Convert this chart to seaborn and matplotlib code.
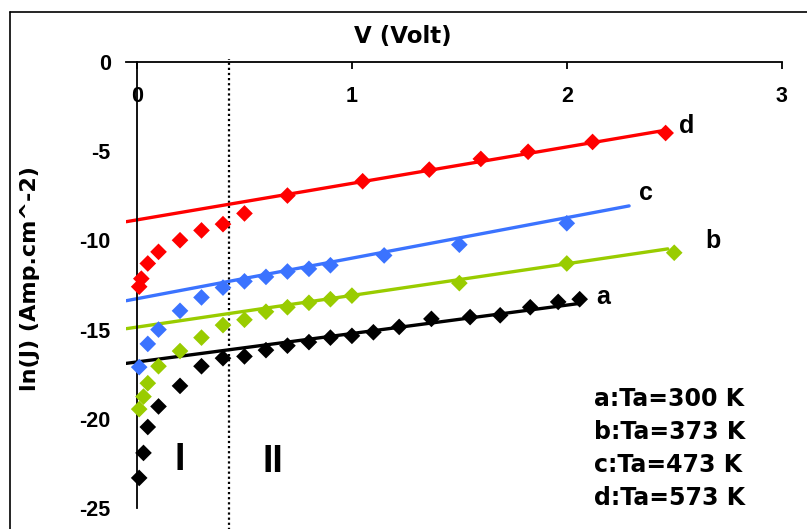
import numpy as np
import pandas as pd
import seaborn as sns
import matplotlib.pyplot as plt
from matplotlib.lines import Line2D

# === Data (ln J vs V) ===
samples = ["a", "b", "c", "d"]
temps = [300, 373, 473, 573]
colors = ["#000000", "#99CC00", "#3B73FF", "#FF0000"]

v_a = [0.01, 0.03, 0.05, 0.1, 0.2, 0.3, 0.4, 0.5, 0.6, 0.7, 0.8, 0.9, 1.0,
       1.1, 1.22, 1.37, 1.55, 1.69, 1.83, 1.96, 2.06]
lnj_a = [-23.3, -21.9, -20.45, -19.3, -18.15, -17.05, -16.6, -16.5, -16.15, -15.9, -15.7, -15.45, -15.35,
         -15.15, -14.85, -14.4, -14.3, -14.2, -13.75, -13.45, -13.3]

v_b = [0.01, 0.03, 0.05, 0.1, 0.2, 0.3, 0.4, 0.5, 0.6, 0.7, 0.8, 0.9, 1.0, 1.5, 2.0, 2.5]
lnj_b = [-19.45, -18.75, -18.0, -17.05, -16.2, -15.45, -14.75, -14.45, -14.0, -13.75, -13.5, -13.3, -13.1,
         -12.4, -11.3, -10.7]

v_c = [0.01, 0.05, 0.1, 0.2, 0.3, 0.4, 0.5, 0.6, 0.7, 0.8, 0.9, 1.15, 1.5, 2.0]
lnj_c = [-17.1, -15.8, -15.0, -13.95, -13.2, -12.65, -12.3, -12.05, -11.75, -11.6, -11.4, -10.85, -10.25, -9.05]

v_d = [0.01, 0.02, 0.05, 0.1, 0.2, 0.3, 0.4, 0.5, 0.7, 1.05, 1.36, 1.6, 1.82, 2.12, 2.46]
lnj_d = [-12.6, -12.15, -11.3, -10.65, -10.0, -9.45, -9.1, -8.5, -7.5, -6.7, -6.05, -5.45, -5.05, -4.5, -4.0]

# linear fits of region II
fit_intercept = [-16.81, -14.86, -13.27, -8.86]
fit_slope = [1.59, 1.772, 2.267, 2.04]
fit_start = -0.05
fit_end = [2.06, 2.47, 2.29, 2.46]

# where the curve labels a..d sit
label_v = [2.17, 2.68, 2.37, 2.56]
label_lnj = [-13.2, -10.05, -7.35, -3.6]

boundary_v = 0.43  # dotted line between region I and II

# === Build tables ===
volts = [v_a, v_b, v_c, v_d]
lnjs = [lnj_a, lnj_b, lnj_c, lnj_d]
points = pd.concat([pd.DataFrame({"V": v, "lnJ": j, "sample": s})
                    for s, v, j in zip(samples, volts, lnjs)], ignore_index=True)

fit_rows = []
for s, b0, m, xe in zip(samples, fit_intercept, fit_slope, fit_end):
    xs = np.array([fit_start, xe])
    fit_rows.append(pd.DataFrame({"V": xs, "lnJ": b0 + m * xs, "sample": s}))
fits = pd.concat(fit_rows, ignore_index=True)

palette = dict(zip(samples, colors))

# === Plot ===
sns.set_theme(style="white")
plt.rcParams["font.family"] = ["Liberation Sans", "DejaVu Sans"]
plt.rcParams["font.weight"] = "bold"
plt.rcParams["axes.unicode_minus"] = False
plt.rcParams["text.color"] = "black"
plt.rcParams["axes.labelcolor"] = "black"

fig = plt.figure(figsize=(8.07, 5.29), dpi=100)
ax = fig.add_axes([0.1565, 0.0391, 0.8121, 0.8446])

sns.lineplot(data=fits, x="V", y="lnJ", hue="sample", palette=palette, linewidth=2.4,
             estimator=None, sort=False, legend=False, ax=ax, zorder=2)
sns.scatterplot(data=points, x="V", y="lnJ", hue="sample", palette=palette, marker="D",
                s=72, linewidth=0, legend=False, ax=ax, zorder=3)

ax.axvline(boundary_v, ymin=-0.06, ymax=1.005, color="black", linewidth=1.6,
           linestyle=(0, (1, 1.3)), clip_on=False, zorder=1)

ax.set_xlim(-0.05, 3)
ax.set_ylim(-25, 0)
ax.set_xticks([0, 1, 2, 3])
ax.set_yticks([0, -5, -10, -15, -20, -25])

for side in ["right", "bottom"]:
    ax.spines[side].set_visible(False)
ax.spines["left"].set_position(("data", 0))
for side in ["left", "top"]:
    ax.spines[side].set_color("black")
    ax.spines[side].set_linewidth(1.3)

ax.xaxis.tick_top()
ax.tick_params(axis="x", direction="in", length=5, width=1.3, pad=-33, labelsize=15.5,
               color="black", labelcolor="black")
ax.tick_params(axis="y", direction="out", length=7, width=1.3, pad=12, labelsize=15.5,
               color="black", labelcolor="black")
for lab in ax.get_xticklabels() + ax.get_yticklabels():
    lab.set_fontweight("bold")

ax.xaxis.set_label_position("top")
ax.set_xlabel("V (Volt)", fontsize=16.5, fontweight="bold", family="DejaVu Sans")
ax.xaxis.label.set_va("center")
ax.xaxis.set_label_coords(0.422, 1.055)
ax.set_ylabel("ln(J) (Amp.cm^-2)", fontsize=16, fontweight="bold", family="DejaVu Sans")
ax.yaxis.label.set_va("center")
ax.yaxis.set_label_coords(-0.147, 0.515)

for s, lv, lj in zip(samples, label_v, label_lnj):
    ax.text(lv, lj, s, fontsize=18, fontweight="bold", color="black", ha="center", va="center")

ax.text(0.2, -22.3, "I", fontsize=27, fontweight="bold", color="black", ha="center", va="center")
ax.text(0.63, -22.4, "II", fontsize=27, fontweight="bold", color="black", ha="center", va="center")

for i, (s, t) in enumerate(zip(samples, temps)):
    ax.text(0.714, 0.244 - i * 0.0735, f"{s}:Ta={t} K", transform=ax.transAxes,
            fontsize=17, fontweight="bold", family="DejaVu Sans", color="black",
            ha="left", va="center")

# outer chart-area border (only top and left edges show in the crop)
fig.add_artist(Line2D([0.0124, 1.0], [0.977, 0.977], color="black", linewidth=1.2))
fig.add_artist(Line2D([0.0124, 0.0124], [0.0, 0.977], color="black", linewidth=1.2))

plt.savefig("out.png", dpi=100)
plt.close()
